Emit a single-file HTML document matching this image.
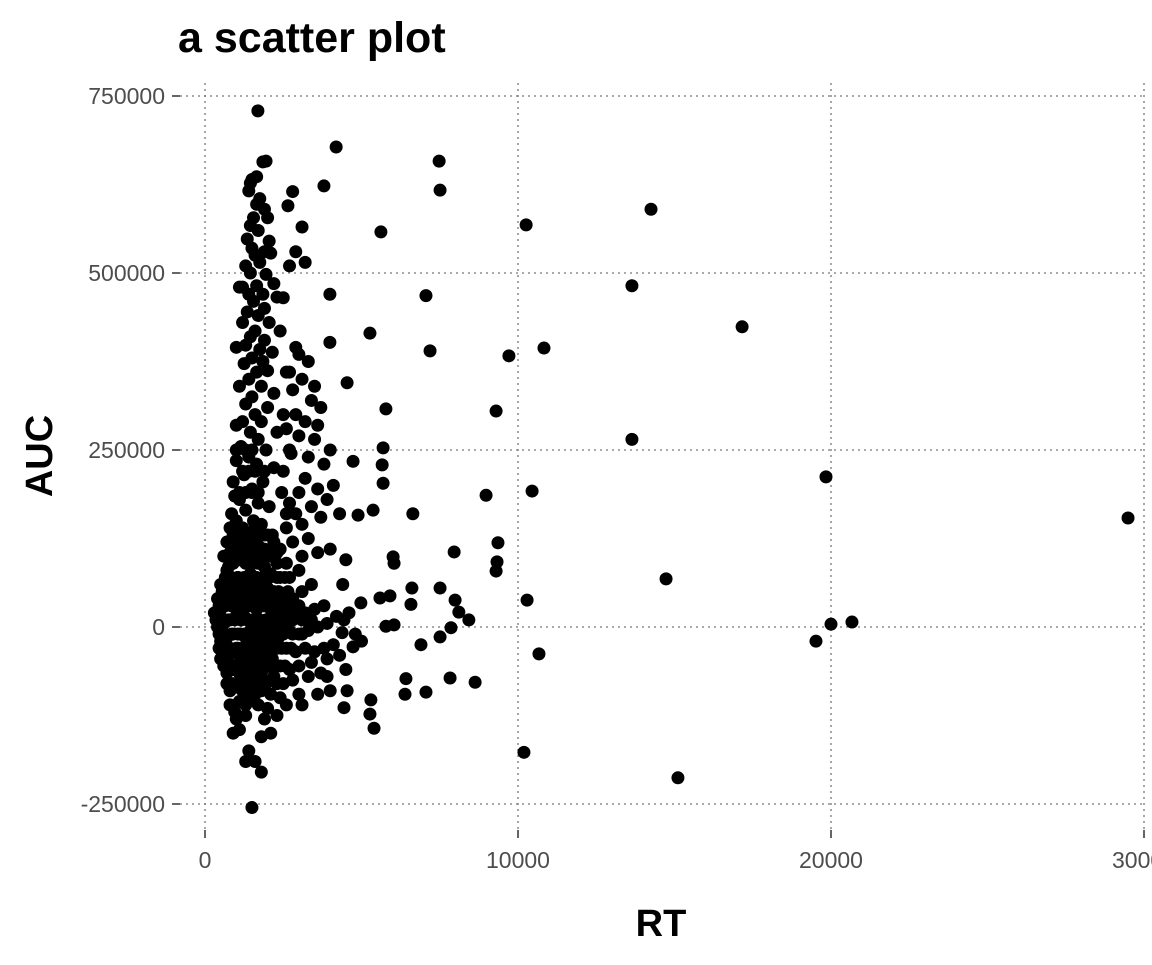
<!DOCTYPE html>
<html><head><meta charset="utf-8"><style>
body{margin:0;background:#fff;}
svg text{font-family:"Liberation Sans",Arial,sans-serif;}
</style></head><body>
<svg id="chart" width="1152" height="960">
<text x="178" y="52" font-size="43" font-weight="bold" fill="#000">a scatter plot</text>
<g id="grid"></g>
<g id="yaxis"></g>
<g id="xaxis"></g>
<g id="pts"></g>
<text x="661" y="936" font-size="38" font-weight="bold" text-anchor="middle">RT</text>
<text transform="translate(52,456) rotate(-90)" font-size="38" font-weight="bold" text-anchor="middle">AUC</text>
</svg>
<script>
const xTicks=[0,10000,20000,30000];
const xTickLabels=["0","10000","20000","30000"];
const yTicks=[-250,0,250,500,750];
const yTickLabels=["-250000","0","250000","500000","750000"];
const rtValues=[1690,4190,7480,7510,3800,5620,10260,14250,13640,17160,10830,9710,7060,7190,5270,3990,3990,4540,5780,9300,13640,19840,29490,10450,8980,9360,9330,9300,7960,14730,10290,8430,7990,7510,7510,7860,8110,10670,19520,20000,20670,10190,15110,8630,7830,7060,6390,6420,6900,6010,6040,4890,6640,5660,5690,5690,4730,5370,5300,5270,5400,4540,4440,6040,5780,6610,6580,5590,5910,4980,4440,4730,4380,3900,
1950,1850,1500,1450,1650,1400,1750,1650,1900,1550,2000,1450,1700,2050,1350,1900,1500,1600,2100,1300,1750,1450,1950,2200,1200,1650,1400,1850,2300,1550,1100,1900,1350,1700,2050,1200,1600,2400,1450,1900,1300,1750,2150,1000,1500,1850,1250,2000,1650,2600,1400,1100,1800,2200,1500,1300,2000,1600,2500,1200,1800,1000,1450,2300,1700,1150,1950,2700,1400,1000,1650,2200,1250,1850,900,1500,2450,1100,1700,2050,1300,850,2600,1550,
2900,3000,3300,2700,3100,2800,3500,3400,3700,2900,3200,3600,2600,3000,3500,4000,3300,2750,3800,2500,3200,4100,3600,3000,2700,3400,3900,2900,3700,3100,2600,4300,3300,2800,4000,3600,3100,4500,2800,2650,3100,2900,3200,2700,2500,
600,800,1000,1200,1400,1600,1800,2000,2200,2400,700,900,1100,1300,1500,1700,1900,2100,2300,2600,500,700,900,1100,1300,1500,1700,1900,2100,2400,2700,3000,400,600,800,1000,1200,1400,1600,1800,2000,2200,2500,2800,3100,3400,300,500,700,900,1100,1300,1500,1700,1900,2100,2300,2600,2900,3200,3500,3800,400,600,800,1000,1200,1400,1600,1800,2000,2200,2400,2700,3000,3300,3600,3900,4200,4600,500,700,900,1100,1300,1500,1700,1900,2100,2300,2600,2900,3200,3500,3800,4100,500,700,900,1100,1300,1500,1700,1900,2100,2400,2700,3000,3400,700,900,1100,1300,1500,1700,1900,2200,2500,2800,3300,800,1000,1200,1400,1600,1800,2100,2400,3000,3600,800,1100,1300,1700,2000,2600,3100,1000,1300,1900,2300,900,1100,1800,2100,1400,1600,1800,1500,1300,4000,4500,3700,4300,4800,5000,4400,3900,
1250,1550,1850,2050,1350,1650,950,1150,1450,1750,2150,850,1250,1650,1950,1050,1350,1550,1850,750,1150,1450,2350,950,1250,1750,650,1050,1550,2050,850,1350,1650,1150,1950,750,1450,950,1250,1650,2250,1050,
900,1150,1400,1650,1900,2150,
800,1050,1300,1550,1800,2050,2300,
650,850,1050,1250,1450,1650,1850,2050,2300,2550,
550,750,950,1150,1350,1550,1750,1950,2150,2350,2650,
450,650,850,1050,1250,1450,1650,1850,2050,2300,2500,2750,3000,
350,550,750,950,1150,1350,1550,1750,1950,2150,2350,2550,2800,3100,3400,
450,650,850,1050,1250,1450,1650,1850,2050,2250,2500,2800,3100,
450,600,800,1000,1200,1400,1600,1800,2000,2200,2450,2750,
600,800,1000,1200,1400,1600,1800,2000,2250,2550,
700,900,1100,1300,1500,1700,1950,2300,
1100,1300,1500,1700,1200,1400,1600,1900,1000,1300,1500];
const aucThousands=[729,678,658,617,623,558,568,590,482,424,394,383,468,390,415,470,402,345,308,305,265,212,154,192,186,119,92,79,106,68,38,10,38,55,-14,-1,21,-38,-20,4,7,-177,-213,-78,-72,-92,-95,-73,-25,99,90,158,160,229,253,203,234,165,-103,-123,-143,-90,-114,3,1,55,32,41,44,34,10,-28,-8,-45,
658,657,632,627,636,616,605,597,590,578,578,567,560,545,548,530,535,525,528,510,515,500,498,485,480,482,470,470,466,460,480,450,445,440,430,430,418,418,410,405,398,392,388,395,380,375,372,362,360,360,350,340,340,330,325,315,310,300,300,290,290,285,275,275,265,255,250,250,240,235,230,225,215,205,205,195,190,180,175,170,165,160,160,150,
395,385,375,360,350,335,340,320,310,300,290,285,280,270,265,250,240,245,230,220,210,200,195,190,175,170,180,160,155,145,140,160,125,120,110,105,100,95,615,595,565,530,515,510,465,
100,140,150,140,130,140,145,130,120,110,120,120,120,110,115,115,110,100,90,90,60,80,90,95,90,90,90,85,75,70,70,80,40,50,60,65,65,65,60,60,55,50,45,40,50,60,20,25,35,40,40,40,35,35,30,25,20,20,15,20,25,30,0,5,10,15,15,10,10,5,5,0,-5,-5,-10,-5,0,5,15,20,-20,-15,-10,-10,-15,-15,-20,-20,-25,-30,-30,-35,-30,-35,-30,-25,-45,-40,-35,-40,-40,-45,-45,-50,-50,-55,-60,-55,-50,-65,-60,-65,-65,-70,-70,-75,-70,-80,-75,-70,-90,-85,-90,-90,-95,-90,-95,-100,-95,-95,-110,-105,-110,-110,-115,-110,-110,-130,-125,-130,-125,-150,-145,-155,-150,-175,-190,-205,-255,-190,-90,-60,-65,-40,-10,-20,60,-70,
125,105,95,75,55,35,28,10,-5,-25,-45,65,45,25,5,-30,-55,-80,-60,85,-75,-100,-15,-120,15,50,10,70,-85,-40,30,-20,0,-65,45,-50,75,185,100,-25,35,130,
130,130,130,130,130,130,
105,105,105,105,105,105,105,
70,70,70,70,70,70,70,70,70,70,
50,50,50,50,50,50,50,50,50,50,50,
30,30,30,30,30,30,30,30,30,30,30,30,30,
10,10,10,10,10,10,10,10,10,10,10,10,10,10,10,
-10,-10,-10,-10,-10,-10,-10,-10,-10,-10,-10,-10,-10,
-30,-30,-30,-30,-30,-30,-30,-30,-30,-30,-30,-30,
-55,-55,-55,-55,-55,-55,-55,-55,-55,-55,
-80,-80,-80,-80,-80,-80,-80,-80,
190,190,190,190,220,220,220,220,250,250,250];
const xScale=v=>205+v*0.0313;
const yScale=v=>627-v*0.708;
const NS="http://www.w3.org/2000/svg";
const grid=document.getElementById('grid'),ya=document.getElementById('yaxis'),xa=document.getElementById('xaxis'),pts=document.getElementById('pts');
function mk(tag,attrs,parent){const e=document.createElementNS(NS,tag);for(const k in attrs)e.setAttribute(k,attrs[k]);parent.appendChild(e);return e;}
yTicks.forEach((t,i)=>{const y=yScale(t);
 const g=mk('line',{x1:180,x2:1144,y1:y,y2:y,stroke:'#777','stroke-width':1.3,'stroke-dasharray':'2,4'},grid);
 
 
 const tk=mk('line',{x1:172,x2:180,y1:y,y2:y,stroke:'#333','stroke-width':1.5},ya);
 
 
 const tx=mk('text',{x:165,y:y+8,'font-size':23,'text-anchor':'end',fill:'#4d4d4d'},ya);
 tx.textContent=yTickLabels[i];
 
 
});
xTicks.forEach((t,i)=>{const x=xScale(t);
 const g=mk('line',{x1:x,x2:x,y1:83,y2:830,stroke:'#777','stroke-width':1.3,'stroke-dasharray':'2,4'},grid);
 
 
 const tk=mk('line',{x1:x,x2:x,y1:830,y2:838,stroke:'#333','stroke-width':1.5},xa);
 
 
 const tx=mk('text',{x:x,y:868,'font-size':23,'text-anchor':'middle',fill:'#4d4d4d'},xa);
 tx.textContent=xTickLabels[i];
 
 
});
rtValues.forEach((r,i)=>{
 const c=mk('circle',{cx:xScale(r),cy:yScale(aucThousands[i]),r:6.5,fill:'#000'},pts);
 
 
});
</script>
</body></html>
